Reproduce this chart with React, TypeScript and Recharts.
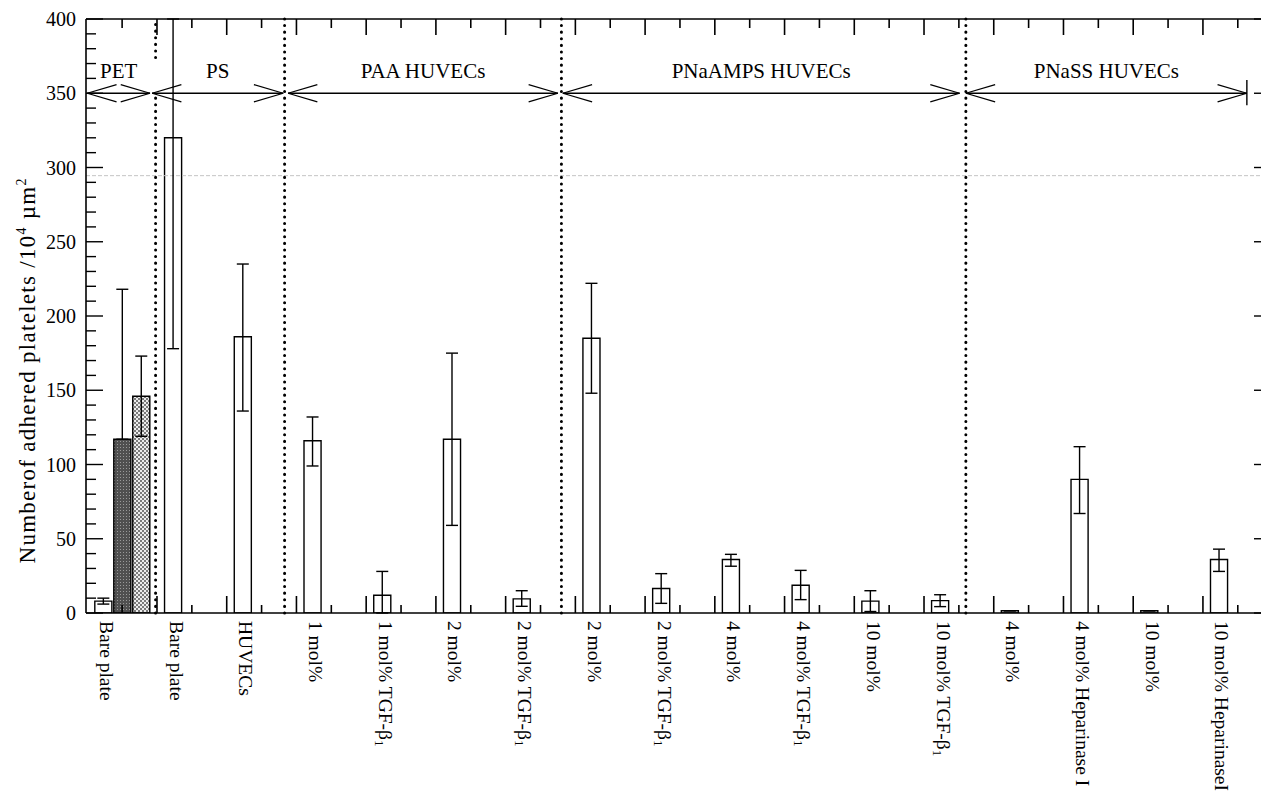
import {
  Bar,
  Cell,
  ComposedChart,
  ErrorBar,
  ReferenceDot,
  ReferenceLine,
  XAxis,
  YAxis,
} from "recharts";

// categories along the x axis (one per position)
const labels = [
  "Bare plate",
  "Bare plate",
  "HUVECs",
  "1 mol%",
  "1 mol% TGF-β₁",
  "2 mol%",
  "2 mol% TGF-β₁",
  "2 mol%",
  "2 mol% TGF-β₁",
  "4 mol%",
  "4 mol% TGF-β₁",
  "10 mol%",
  "10 mol% TGF-β₁",
  "4 mol%",
  "4 mol% Heparinase I",
  "10 mol%",
  "10 mol% HeparinaseI",
];
const means = [8, 320, 186, 116, 12, 117, 9.5, 185, 16.5, 36, 18.7, 8, 8.3, 1.5, 90, 1.5, 36];
const errLow = [2, 142, 50, 17, 12, 58, 5, 37, 10, 4.5, 9.7, 7, 4, 0, 23, 0, 8];
// PS bare plate bar runs off the top of the frame
const errHigh = [2, 80, 49, 16, 16, 58, 5.5, 37, 10, 3.5, 10, 7, 4, 0, 22, 0, 7];

// two extra PET bars drawn next to the PET bare plate bar
const petExtraMeans = [117, 146];
const petExtraLow = [0, 27];
const petExtraHigh = [101, 27];
const petExtraFill = ["url(#darkFill)", "url(#checkFill)"];

const groupNames = ["PET", "PS", "PAA HUVECs", "PNaAMPS HUVECs", "PNaSS HUVECs"];

const yMajor = [0, 50, 100, 150, 200, 250, 300, 350, 400];

// layout (axis units)
const PLOT_LEFT = 86;
const X_MIN = -0.248;
const X_MAX = 16.617;
const PX_X = 69.73; // px per x unit
const BAR_STEP = 0.272;
const ARROW_Y = 350;
const ARROWS: [number, number][] = [
  [-0.23, 0.67],
  [0.7, 2.58],
  [2.65, 6.52],
  [6.59, 12.28],
  [12.37, 16.4],
];
const HEAD_DX = 0.42;
const HEAD_DY = 5.8;
const DIVIDERS = [2.6, 6.57, 12.37];

const FONT = "'Liberation Serif', 'Times New Roman', serif";

const rows = [
  ...means.map((v, i) => ({
    x: i,
    value: v,
    err: [errLow[i], errHigh[i]],
    fill: "#ffffff",
  })),
  ...petExtraMeans.map((v, i) => ({
    x: (i + 1) * BAR_STEP,
    value: v,
    err: [petExtraLow[i], petExtraHigh[i]],
    fill: petExtraFill[i],
  })),
];

// frame tick marks on the top and bottom edges (short at n+.27, long at n+.77)
const yTicks = Array.from({ length: 41 }, (_, i) => i * 10);
const frameMarks: { x: number; long: boolean }[] = [];
for (let n = 0; n <= 16; n++) {
  frameMarks.push({ x: n + 0.27, long: false });
  if (n + 0.77 < X_MAX) frameMarks.push({ x: n + 0.77, long: true });
}
const labelTicks = labels.map((_, i) => i);
const markPx = (t: number) => PLOT_LEFT + (t - X_MIN) * PX_X;

function CatLabel(props: any) {
  const { x, y, payload } = props;
  const text: string = labels[Math.round(payload.value)] ?? "";
  const tx = x + 3;
  const ty = y + 8;
  const parts = text.split("₁");
  return (
    <text
      x={tx}
      y={ty}
      transform={`rotate(90, ${tx}, ${ty})`}
      fontSize={19.5}
      fontFamily={FONT}
      fill="#000"
      dominantBaseline="central"
      textAnchor="start"
    >
      {parts[0]}
      {parts.length > 1 && (
        <tspan dy={5} fontSize={13}>
          1
        </tspan>
      )}
    </text>
  );
}

function YTick(props: any) {
  const { x, y, payload } = props;
  const v: number = payload.value;
  const major = v % 50 === 0;
  // bottom / top frame marks hang off the 0 and 400 ticks
  const frame =
    v === 0 || v === 400
      ? frameMarks.map((m, i) => {
          const len = v === 0 ? (m.long ? 17 : 8) : m.long ? 16 : 9;
          const dir = v === 0 ? -1 : 1;
          const mx = markPx(m.x);
          return (
            <line
              key={i}
              x1={mx}
              x2={mx}
              y1={y}
              y2={y + dir * len}
              stroke="#000"
              strokeWidth={1.6}
            />
          );
        })
      : null;
  return (
    <g>
      {frame}
      <line x1={x} x2={x + (major ? 17 : 10)} y1={y} y2={y} stroke="#000" strokeWidth={1.4} />
      {major && (
        <text
          x={x - 10}
          y={y}
          textAnchor="end"
          dominantBaseline="central"
          fontSize={20}
          fontFamily={FONT}
          fill="#000"
        >
          {v}
        </text>
      )}
    </g>
  );
}

function YLabel() {
  return (
    <text
      x={35}
      y={371}
      transform="rotate(-90, 35, 371)"
      textAnchor="middle"
      fontSize={23}
      fontFamily={FONT}
      fill="#000"
      textLength={385}
      lengthAdjust="spacing"
    >
      Numberof adhered platelets /10
      <tspan dy={-9} fontSize={14}>
        4
      </tspan>
      <tspan dy={9}> µm</tspan>
      <tspan dy={-9} fontSize={14}>
        2
      </tspan>
    </text>
  );
}

const ax = { xAxisId: "lab", yAxisId: "left", ifOverflow: "visible" as const };
const seg = (x1: number, y1: number, x2: number, y2: number) => [
  { x: x1, y: y1 },
  { x: x2, y: y2 },
];

export default function App() {
  return (
    <div style={{ width: 1261, height: 795, overflow: "hidden", background: "#fff" }}>
      <style>{"body{margin:0}"}</style>
      <ComposedChart
        width={1270}
        height={795}
        data={rows}
        margin={{ top: 18, right: 8, bottom: 181, left: 85 }}
      >
        <defs>
          <pattern id="darkFill" width="3" height="3" patternUnits="userSpaceOnUse">
            <rect width="3" height="3" fill="#505050" />
            <rect width="1" height="1" fill="#9a9a9a" />
          </pattern>
          <pattern id="checkFill" width="4" height="4" patternUnits="userSpaceOnUse">
            <rect width="4" height="4" fill="#ececec" />
            <rect width="2" height="2" fill="#7a7a7a" />
            <rect x="2" y="2" width="2" height="2" fill="#7a7a7a" />
          </pattern>
        </defs>
        <XAxis
          xAxisId="lab"
          dataKey="x"
          type="number"
          domain={[X_MIN, X_MAX]}
          allowDataOverflow
          ticks={labelTicks}
          interval={0}
          tick={(p: any) => <CatLabel {...p} />}
          tickLine={false}
          tickSize={0}
          tickMargin={0}
          axisLine={{ stroke: "#000", strokeWidth: 1.6 }}
          height={1}
        />
        <XAxis
          xAxisId="top"
          dataKey="x"
          orientation="top"
          type="number"
          domain={[X_MIN, X_MAX]}
          allowDataOverflow
          tick={false}
          tickLine={false}
          axisLine={{ stroke: "#000", strokeWidth: 1.6 }}
          height={1}
        />
        <YAxis
          yAxisId="left"
          type="number"
          domain={[0, 400]}
          allowDataOverflow
          ticks={yTicks}
          interval={0}
          tick={(p: any) => <YTick {...p} />}
          tickLine={false}
          tickSize={0}
          tickMargin={0}
          axisLine={{ stroke: "#000", strokeWidth: 1.6 }}
          width={1}
          label={<YLabel />}
        />

        <ReferenceLine {...ax} y={294.5} stroke="#c4c4c4" strokeDasharray="4 2" strokeWidth={1} />

        {/* right frame ticks */}
        {yMajor.map((v) => (
          <ReferenceLine
            key={`r${v}`}
            {...ax}
            segment={seg(X_MAX, v, X_MAX - 8 / PX_X, v)}
            stroke="#000"
            strokeWidth={1.4}
          />
        ))}

        {/* group dividers */}
        {[seg(0.75, 0, 0.75, 349), seg(0.75, 374, 0.75, 400)].map((s, i) => (
          <ReferenceLine
            key={`pd${i}`}
            {...ax}
            segment={s}
            stroke="#000"
            strokeWidth={3}
            strokeDasharray="0.1 6.5"
            strokeLinecap="round"
          />
        ))}
        {DIVIDERS.map((d) => (
          <ReferenceLine
            key={`d${d}`}
            {...ax}
            x={d}
            stroke="#000"
            strokeWidth={3}
            strokeDasharray="0.1 6.5"
            strokeLinecap="round"
          />
        ))}

        {/* group arrows */}
        {ARROWS.map(([a, b], i) => (
          <g key={`a${i}`}>
            {[
              seg(a, ARROW_Y, b, ARROW_Y),
              seg(a, ARROW_Y, a + HEAD_DX, ARROW_Y + HEAD_DY),
              seg(a, ARROW_Y, a + HEAD_DX, ARROW_Y - HEAD_DY),
              seg(b, ARROW_Y, b - HEAD_DX, ARROW_Y + HEAD_DY),
              seg(b, ARROW_Y, b - HEAD_DX, ARROW_Y - HEAD_DY),
            ].map((s, j) => (
              <ReferenceLine key={`h${i}-${j}`} {...ax} segment={s} stroke="#000" strokeWidth={1.3} />
            ))}
            <ReferenceDot
              {...ax}
              x={(a + b) / 2}
              y={ARROW_Y}
              r={0}
              fill="none"
              stroke="none"
              label={{
                value: groupNames[i],
                position: "top",
                offset: 15,
                fontSize: 21,
                fontFamily: FONT,
                fill: "#000",
              }}
            />
          </g>
        ))}
        <ReferenceLine
          {...ax}
          segment={seg(ARROWS[4][1], 342, ARROWS[4][1], 359)}
          stroke="#000"
          strokeWidth={1.4}
        />

        <Bar
          xAxisId="lab"
          yAxisId="left"
          dataKey="value"
          barSize={19}
          stroke="#000"
          strokeWidth={1.4}
          isAnimationActive={false}
        >
          {rows.map((r, i) => (
            <Cell key={i} fill={r.fill} />
          ))}
          <ErrorBar dataKey="err" width={6} stroke="#000" strokeWidth={1.4} />
        </Bar>
      </ComposedChart>
    </div>
  );
}
